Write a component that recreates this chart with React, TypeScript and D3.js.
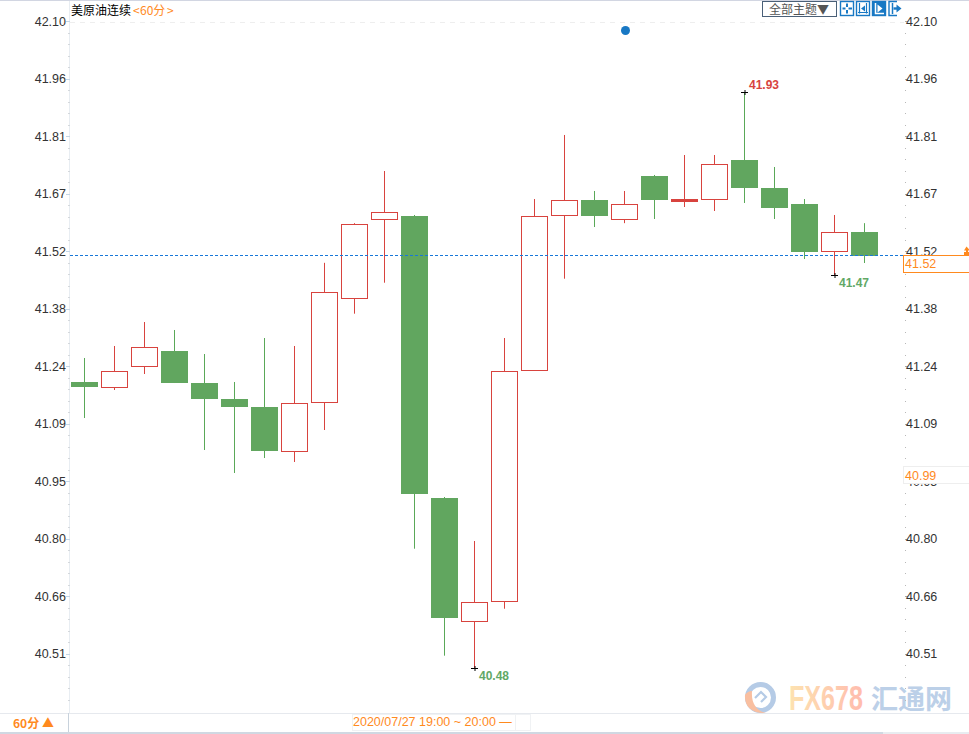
import React from "react";
import * as d3 from "d3";

const opens = [41.2000,41.1881,41.2390,41.2780,41.1974,41.1572,41.1370,41.0263,41.1496,41.4107,41.6095,41.6178,40.9079,40.5975,40.6479,41.2302,41.6196,41.6581,41.6103,41.7185,41.6556,41.6594,41.7588,41.6883,41.6480,41.5298,41.5776];
const closes = [41.1874,41.2269,41.2881,41.1974,41.1572,41.1370,41.0263,41.1471,41.4258,41.5969,41.6272,40.9188,40.6066,40.6454,41.2269,41.6171,41.6574,41.6178,41.6473,41.6581,41.6594,41.7487,41.6883,41.6380,41.5272,41.5776,41.5171];
const highs = [41.2604,41.2906,41.3510,41.3309,41.2704,41.2000,41.3107,41.2906,41.5000,41.5998,41.7311,41.6204,40.9105,40.7997,41.3107,41.6606,41.8218,41.6808,41.6808,41.7211,41.7714,41.7714,41.9300,41.7412,41.6606,41.6204,41.5998];
const lows = [41.1093,41.1798,41.2201,41.1974,41.0288,40.9709,41.0086,40.9986,41.0791,41.3719,41.4499,40.7803,40.5110,40.4800,40.6292,41.2302,41.4600,41.5901,41.5998,41.6103,41.6405,41.6304,41.6506,41.6103,41.5096,41.4693,41.4995];

const tickValues = [42.1077,41.9628,41.8181,41.6734,41.5287,41.3847,41.2394,41.0947,40.9500,40.8053,40.6606,40.5159];
const tickLabels = ["42.10","41.96","41.81","41.67","41.52","41.38","41.24","41.09","40.95","40.80","40.66","40.51"];
const lastPrice = 41.5196;
const lastLabel = "41.52";
const cursorLabel = "40.99";
const extremes = [
  { index: 22, value: 41.93, label: "41.93", kind: "high" },
  { index: 25, value: 41.47, label: "41.47", kind: "low" },
  { index: 13, value: 40.48, label: "40.48", kind: "low" },
];
const titleName = "美原油连续";
const period = "60分";
const dateRange = "2020/07/27 19:00 ~ 20:00 —";

const RED = "#d8433e";
const GREEN = "#5aa858";
const BODY = "#61a65f";
const ORANGE = "#ff8a1e";
const BLUE = "#1878c4";
const FONT = "'Liberation Sans', Arial, 'Noto Sans CJK SC', sans-serif";
const CJK = "'Noto Sans CJK SC', 'Liberation Sans', sans-serif";

const x = d3.scaleLinear().domain([0, 26]).range([84.5, 864.5]);
const y = d3.scaleLinear().domain([41.93, 40.48]).range([92, 668]);
const snap = (v: number) => Math.round(y(v)) + 0.5;

const tickStep = (tickValues[0] - tickValues[tickValues.length - 1]) / (tickValues.length - 1);
const minorTicks = d3.range(0, 60).map((i) => tickValues[0] - (i * tickStep) / 5);

function Candles() {
  return (
    <g>
      {opens.map((o, i) => {
        const c = closes[i];
        const cx = x(i);
        const up = c >= o;
        const top = Math.max(o, c);
        const bottom = Math.min(o, c);
        if (!up) {
          const y0 = Math.round(y(top));
          const y1 = Math.round(y(bottom));
          return (
            <g key={i}>
              <line x1={cx} x2={cx} y1={y(highs[i])} y2={y(lows[i])} stroke={GREEN} />
              <rect x={cx - 13.5} y={y0} width={27} height={y1 - y0} fill={BODY} />
            </g>
          );
        }
        const y0 = snap(top);
        const y1 = snap(bottom);
        const thin = y1 - y0 <= 2;
        return (
          <g key={i}>
            <line x1={cx} x2={cx} y1={y(highs[i])} y2={y0} stroke={RED} />
            <line x1={cx} x2={cx} y1={y1} y2={y(lows[i])} stroke={RED} />
            <rect x={cx - 13} y={y0} width={26} height={y1 - y0} fill={thin ? RED : "#fff"} stroke={RED} />
          </g>
        );
      })}
    </g>
  );
}

function Buttons() {
  const w = 13;
  return (
    <g stroke={BLUE} fill="none">
      <rect x={840.5} y={1.5} width={w} height={14} fill="#fff" strokeWidth={1.4} />
      <path d="M847 3.5v3.5M847 10v3.5M842.5 8.5h3M848.5 8.5h3.5" strokeWidth={2} />
      <rect x={856.5} y={1.5} width={w} height={14} fill="#fff" strokeWidth={1.4} />
      <path d="M859.5 3v10.5M866.5 3v10.5M858 12.5h10" strokeWidth={1.2} />
      <path d="M865 5.5l-4 3 4 3z" fill={BLUE} stroke="none" />
      <rect x={872.5} y={1.5} width={w} height={14} fill={BLUE} strokeWidth={1.4} />
      <path d="M875.5 3v10.5H884" stroke="#fff" strokeWidth={1.5} />
      <path d="M877.5 4.5l5 4-5 4z" fill="#fff" stroke="none" />
      <path d="M897 1.5h-8v14h8" strokeWidth={1.4} />
      <path d="M892.5 3v11" strokeWidth={1.5} />
      <path d="M893.5 8.5h4" strokeWidth={2.4} />
      <path d="M896.5 4.5l5 4-5 4z" fill={BLUE} stroke="none" />
    </g>
  );
}

function Watermark() {
  return (
    <g>
      <defs>
        <linearGradient id="fxg" x1="0" x2="1" y1="0" y2="0">
          <stop offset="0" stopColor="#fde2b0" />
          <stop offset="1" stopColor="#ffbcae" />
        </linearGradient>
      </defs>
      <circle cx={760.5} cy={697.5} r={13} fill="none" stroke="#b5cbe6" strokeWidth={5} />
      <path d="M745 695c-1 12 8 19 21 18c-9-2-15-9-14-22c-3 0-6 2-7 4z" fill="#f9bfa0" />
      <path d="M755 698l6-6 5 5-5 5" fill="none" stroke="#b5cbe6" strokeWidth={2.2} />
      <text x={789} y={710} fontFamily="'Liberation Sans Narrow','Liberation Sans',sans-serif" fontWeight="bold" fontSize={35} textLength={74} lengthAdjust="spacingAndGlyphs" fill="url(#fxg)">FX678</text>
      <text x={871} y={709} fontFamily={CJK} fontWeight="bold" fontSize={27} fill="#bcd0e8">汇通网</text>
    </g>
  );
}

export default function App() {
  const lastY = snap(lastPrice);
  return (
    <svg width={969} height={734} style={{ position: "absolute", left: 0, top: 0, display: "block", background: "#fff" }} fontFamily={FONT}>
      <rect x={0} y={0} width={969} height={1} fill="#d2d6e2" />
      <Watermark />

      {/* left axis */}
      <line x1={69.5} x2={69.5} y1={1} y2={713} stroke="#e8edf2" />
      <line x1={70} x2={904} y1={22.5} y2={22.5} stroke="#eeeeee" strokeDasharray="5 5" />
      {minorTicks.map((v) => (
        <g key={v}>
          <rect x={68} y={Math.round(y(v))} width={2} height={1} fill="#d4d8dc" />
          <rect x={905} y={Math.round(y(v))} width={1} height={1} fill="#b8b8b8" />
        </g>
      ))}
      {tickValues.map((v, i) => (
        <g key={v}>
          <line x1={66} x2={70} y1={Math.round(y(v)) + 0.5} y2={Math.round(y(v)) + 0.5} stroke="#c4d6e6" />
          <line x1={905} x2={908} y1={Math.round(y(v)) + 0.5} y2={Math.round(y(v)) + 0.5} stroke="#a8a8a8" />
          <text x={66} y={y(v) + 4.5} textAnchor="end" fontSize={12.5} fill="#333">{tickLabels[i]}</text>
          <text x={906} y={y(v) + 4.5} fontSize={12.5} fill="#333">{tickLabels[i]}</text>
        </g>
      ))}

      <Candles />

      <line x1={70} x2={904} y1={lastY} y2={lastY} stroke="#1878d8" strokeDasharray="3 2" />

      {extremes.map((e) => {
        const ex = x(e.index);
        const ey = Math.round(y(e.value)) + 0.5;
        const isHigh = e.kind === "high";
        return (
          <g key={e.label}>
            <path d={`M${ex - 3.5} ${ey}h7M${ex + 0.5} ${ey - 2.5}v5`} stroke="#000" fill="none" />
            <text x={ex + 4.5} y={isHigh ? ey - 3.5 : ey + 11.5} fontSize={12} fontWeight="bold" fill={isHigh ? RED : "#62a866"}>{e.label}</text>
          </g>
        );
      })}

      <circle cx={x(18) + 1} cy={30.5} r={4.5} fill={BLUE} />

      {/* header */}
      <text x={71} y={15} fontSize={12} fontFamily={CJK} fill="#000">{titleName}</text>
      <text x={133} y={14.5} fontSize={12} fontFamily={CJK} fill={ORANGE}>{"<"}</text>
      <text x={140} y={15} fontSize={12} fontFamily={CJK} fill={ORANGE}>{period}</text>
      <text x={167} y={14.5} fontSize={12} fontFamily={CJK} fill={ORANGE}>{">"}</text>

      <rect x={762.5} y={1.5} width={74} height={15} fill="#fff" stroke="#4a6078" />
      <text x={769} y={14} fontSize={12} fontFamily={CJK} fill="#555">全部主题▼</text>
      <Buttons />

      {/* price boxes */}
      <path d="M966.5 246.5l3.5 4h-2v1.5h2v3h-6v-3h2v-1.5h-2z" fill={ORANGE} />
      <rect x={903.5} y={255.5} width={70} height={17} fill="#fff" stroke={ORANGE} />
      <text x={905} y={268} fontSize={12.5} fill={ORANGE}>{lastLabel}</text>
      <rect x={903.5} y={466.5} width={70} height={17} fill="#fff" stroke="#eeeeee" />
      <text x={905} y={480} fontSize={12.5} fill={ORANGE}>{cursorLabel}</text>

      {/* footer */}
      <rect x={0} y={713} width={969} height={1} fill="#e6e9ee" />
      <rect x={68} y={713} width={1} height={19} fill="#c8d2dc" />
      <rect x={0} y={732} width={883} height={2} fill="#d0d8e2" />
      <rect x={883} y={732} width={86} height={2} fill="#e8ecf0" />
      <text x={13} y={728} fontSize={12} fontWeight="bold" fontFamily={CJK} fill={ORANGE}>{period} ▲</text>
      <rect x={352.5} y={714.5} width={178} height={16} fill="#fff" stroke="#f0f2f4" />
      <line x1={515.5} x2={515.5} y1={714} y2={730} stroke="#f0f2f4" />
      <text x={353} y={726} fontSize={12.5} fill={ORANGE}>{dateRange}</text>
    </svg>
  );
}
